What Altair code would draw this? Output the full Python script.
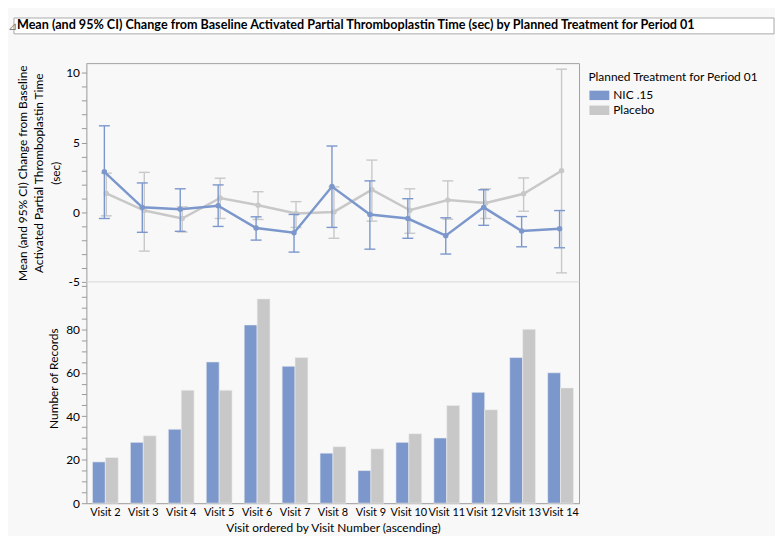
import altair as alt
import pandas as pd

# ---------------- data ----------------
visits = ["Visit 2", "Visit 3", "Visit 4", "Visit 5", "Visit 6", "Visit 7", "Visit 8",
          "Visit 9", "Visit 10", "Visit 11", "Visit 12", "Visit 13", "Visit 14"]
trts = ["NIC .15", "Placebo"]

nic_mean = [2.9, 0.35, 0.21, 0.47, -1.13, -1.47, 1.84, -0.16, -0.45, -1.68, 0.35, -1.35, -1.18]
nic_lo = [-0.45, -1.44, -1.37, -1.02, -2.0, -2.86, -1.09, -2.65, -1.87, -3.0, -0.94, -2.48, -2.55]
nic_hi = [6.2, 2.1, 1.68, 1.96, -0.33, -0.16, 4.75, 2.25, 0.97, -0.4, 1.61, -0.31, 0.12]

pla_mean = [1.35, 0.12, -0.45, 1.02, 0.5, -0.09, 0.02, 1.61, 0.14, 0.87, 0.66, 1.32, 2.98]
pla_lo = [-0.26, -2.79, -1.42, -0.45, -0.52, -1.09, -1.87, -0.64, -1.51, -0.5, -0.45, 0.07, -4.35]
pla_hi = [2.8, 2.86, 0.38, 2.44, 1.47, 0.76, 1.82, 3.74, 1.68, 2.25, 1.68, 2.46, 10.26]

nic_n = [19, 28, 34, 65, 82, 63, 23, 15, 28, 30, 51, 67, 60]
pla_n = [21, 31, 52, 52, 94, 67, 26, 25, 32, 45, 43, 80, 53]

main_title = ("Mean (and 95% CI) Change from Baseline Activated Partial Thromboplastin Time "
              "(sec) by Planned Treatment for Period 01")
top_y_title = ["Mean (and 95% CI) Change from Baseline",
               "Activated Partial Thromboplastin Time", "(sec)"]
bot_y_title = "Number of Records"
x_title = "Visit ordered by Visit Number (ascending)"
legend_title = "Planned Treatment for Period 01"

rows = []
for i, v in enumerate(visits):
    rows.append(dict(visit=v, trt=trts[0], mean=nic_mean[i], lo=nic_lo[i], hi=nic_hi[i], n=nic_n[i]))
    rows.append(dict(visit=v, trt=trts[1], mean=pla_mean[i], lo=pla_lo[i], hi=pla_hi[i], n=pla_n[i]))
df = pd.DataFrame(rows)
one = pd.DataFrame({"t": [main_title]})

# ---------------- style ----------------
FONT = "Lato"
BLUE = "#7B97CC"
GRAY = "#C8C8C8"
AXIS_GRAY = "#9A9A9A"
W = 497
H_TOP = 220
H_BOT = 223
trt_color = {trts[0]: BLUE, trts[1]: GRAY}

color_scale = alt.Scale(domain=trts, range=[BLUE, GRAY])
x_scale = alt.Scale(domain=visits, paddingInner=0.32, paddingOuter=0.16)

# ---------------- title box ----------------
box = alt.Chart(one).mark_rect(fill="white", stroke="#A9A9A9", strokeWidth=1).encode(
    x=alt.value(-73), x2=alt.value(693), y=alt.value(8), y2=alt.value(24))
tri = alt.Chart(one).mark_text(align="left", baseline="middle", fontSize=11, font=FONT,
                               color="#808080").encode(
    x=alt.value(-79), y=alt.value(17), text=alt.value("\u22bf"))
ttl = alt.Chart(one).mark_text(align="left", baseline="middle", fontSize=12.7, font=FONT,
                               fontWeight="bold", color="#000000").encode(
    x=alt.value(-70), y=alt.value(15.5), text="t:N")
title_chart = alt.layer(box, tri, ttl).properties(width=W, height=54)

# ---------------- top chart ----------------
def ytop(field):
    return alt.Y(f"{field}:Q",
                 scale=alt.Scale(domain=[-5, 10.66], nice=False, zero=False),
                 axis=alt.Axis(values=list(range(-5, 11)),
                               labelExpr="datum.value % 5 == 0 ? '' + datum.value : ''",
                               title=top_y_title, titleAngle=-90, titleAlign="center",
                               titleBaseline="middle", titleX=-64.5, titleY=110,
                               titleLineHeight=16.5, grid=False))

xtop = alt.X("visit:N", sort=visits, scale=x_scale, axis=None)


def trt_layers(trt, dx):
    c = trt_color[trt]
    base = alt.Chart(df).transform_filter(alt.datum.trt == trt)
    rule = base.mark_rule(strokeWidth=1.4, xOffset=dx, color=c).encode(
        x=xtop, y=ytop("lo"), y2="hi:Q")
    tlo = base.mark_tick(size=11, thickness=1.4, xOffset=dx, opacity=1, color=c).encode(
        x=xtop, y=ytop("lo"))
    thi = base.mark_tick(size=11, thickness=1.4, xOffset=dx, opacity=1, color=c).encode(
        x=xtop, y=ytop("hi"))
    line = base.mark_line(strokeWidth=2.5, xOffset=dx, color=c).encode(
        x=xtop, y=ytop("mean"))
    pts = base.mark_circle(size=30, opacity=1, xOffset=dx, color=c).encode(
        x=xtop, y=ytop("mean"))
    return [rule, tlo, thi, line, pts]


top_border = alt.Chart(one).mark_rule(color="#A0A0A0", strokeWidth=1).encode(
    x=alt.value(0), x2=alt.value(W), y=alt.value(0))
top_right = alt.Chart(one).mark_rule(color="#A0A0A0", strokeWidth=1).encode(
    x=alt.value(W), y=alt.value(0), y2=alt.value(H_TOP))

top = alt.layer(top_border, top_right,
                *trt_layers(trts[1], 1), *trt_layers(trts[0], -1)).properties(
    width=W, height=H_TOP)

# ---------------- bottom chart ----------------
divider = alt.Chart(one).mark_rule(color="#D8D8D8", strokeWidth=1).encode(
    x=alt.value(0), x2=alt.value(W), y=alt.value(0))
bot_right = alt.Chart(one).mark_rule(color="#A0A0A0", strokeWidth=1).encode(
    x=alt.value(W), y=alt.value(0), y2=alt.value(H_BOT))

bars = alt.Chart(df).mark_bar(stroke="#EEEEEE", strokeWidth=0.6).encode(
    x=alt.X("visit:N", sort=visits, scale=x_scale,
            axis=alt.Axis(title=x_title, labelAngle=0, ticks=False, labelPadding=3,
                          labelFontSize=11, titlePadding=6, grid=False)),
    xOffset=alt.XOffset("trt:N", sort=trts, scale=alt.Scale(domain=trts)),
    y=alt.Y("n:Q", scale=alt.Scale(domain=[0, 101.8], nice=False),
            axis=alt.Axis(values=list(range(0, 101, 5)),
                          labelExpr="(datum.value % 20 == 0 && datum.value < 100) ? '' + datum.value : ''",
                          title=bot_y_title, titleAngle=-90, titleAlign="center",
                          titleBaseline="middle", titleX=-33, titleY=97, grid=False)),
    color=alt.Color("trt:N", scale=color_scale,
                    legend=alt.Legend(title=legend_title, orient="none",
                                      legendX=506, legendY=63,
                                      symbolType="M-2,-0.95H2V0.95H-2Z",
                                      symbolSize=100, symbolStrokeWidth=0,
                                      symbolOffset=5, symbolOpacity=1,
                                      rowPadding=3, titlePadding=5,
                                      labelOffset=8)),
)

bottom = alt.layer(bars, divider, bot_right).properties(width=W, height=H_BOT)

chart = alt.vconcat(title_chart, top, bottom, spacing=0, bounds="flush").resolve_scale(
    y="independent"
).properties(
    padding=0, background="#F8F8F8"
).configure_view(
    stroke=None
).configure_axis(
    labelFont=FONT, titleFont=FONT, labelFontSize=12, titleFontSize=12,
    titleFontWeight="normal", labelColor="#000000", titleColor="#000000",
    domainColor=AXIS_GRAY, tickColor=AXIS_GRAY, tickSize=5, labelPadding=2
).configure_legend(
    labelFont=FONT, titleFont=FONT, labelFontSize=12, titleFontSize=12,
    titleFontWeight="normal", labelColor="#000000", titleColor="#000000"
)

chart.save("out.html", embed_options={"renderer": "svg", "actions": False})
